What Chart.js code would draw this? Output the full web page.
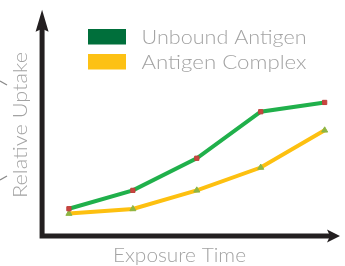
<!DOCTYPE html>
<html>
<head>
<meta charset="utf-8">
<script src="https://cdn.jsdelivr.net/npm/chart.js@4"></script>
<style>
  html, body { margin: 0; padding: 0; background: #fff; }
  #wrap { width: 345px; height: 266px; }
</style>
</head>
<body>
<div id="wrap"><canvas id="chart" width="345" height="266"></canvas></div>
<script>
// time points (unlabelled on the x axis)
const timePoints = [1, 2, 3, 4, 5];
const unboundAntigen = [1.23, 2.06, 3.51, 5.61, 6.03];
const antigenComplex = [1.01, 1.22, 2.06, 3.09, 4.77];
const seriesLabels = ['Unbound Antigen', 'Antigen Complex'];
const legendColors = ['#006f3b', '#fdc114'];

const FONT = 'Lato, "Open Sans", sans-serif';
const TEXT_GREY = '#a3a3a3';
const AXIS_BLACK = '#231f20';

// draw text stretched to a given width (the original face is much wider)
function wideText(ctx, text, x, y, width) {
    const w = ctx.measureText(text).width;
    ctx.save();
    ctx.translate(x, y);
    ctx.scale(width / w, 1);
    ctx.fillText(text, 0, 0);
    ctx.restore();
}

// arrows + titles + legend drawn on top of the plot
const decorPlugin = {
    id: 'decor',
    beforeDatasetsDraw(chart) {
        const { ctx, scales } = chart;
        const ox = scales.x.getPixelForValue(0.58);
        const oy = scales.y.getPixelForValue(0);
        const top = scales.y.getPixelForValue(10.22);
        const right = scales.x.getPixelForValue(5.24);

        ctx.save();
        ctx.strokeStyle = AXIS_BLACK;
        ctx.fillStyle = AXIS_BLACK;
        ctx.lineWidth = 5;
        ctx.lineCap = 'butt';
        ctx.beginPath();
        ctx.moveTo(ox, top + 18);
        ctx.lineTo(ox, oy + 2.5);
        ctx.moveTo(ox - 2.5, oy);
        ctx.lineTo(right - 10, oy);
        ctx.stroke();

        // up arrow
        ctx.beginPath();
        ctx.moveTo(ox, top);
        ctx.lineTo(ox + 6.5, top + 22);
        ctx.lineTo(ox, top + 19);
        ctx.lineTo(ox - 6.5, top + 22);
        ctx.closePath();
        ctx.fill();

        // right arrow
        ctx.beginPath();
        ctx.moveTo(right, oy);
        ctx.lineTo(right - 13, oy - 6.5);
        ctx.lineTo(right - 10, oy);
        ctx.lineTo(right - 13, oy + 6.5);
        ctx.closePath();
        ctx.fill();

        // little cut-off marks at the left edge
        ctx.strokeStyle = '#8a8a8a';
        ctx.lineWidth = 1.3;
        ctx.beginPath();
        ctx.moveTo(0, 81);
        ctx.lineTo(7, 85);
        ctx.moveTo(0, 180);
        ctx.lineTo(7, 176);
        ctx.stroke();

        // axis titles
        ctx.fillStyle = TEXT_GREY;
        ctx.font = '300 19px ' + FONT;
        ctx.textAlign = 'left';
        ctx.textBaseline = 'alphabetic';
        wideText(ctx, 'Exposure Time', 113, 262, 133);
        ctx.translate(27, 198);
        ctx.rotate(-Math.PI / 2);
        wideText(ctx, 'Relative Uptake', 0, 0, 146);
        ctx.restore();

        // legend
        ctx.save();
        ctx.font = '300 19px ' + FONT;
        ctx.textAlign = 'left';
        ctx.textBaseline = 'alphabetic';
        seriesLabels.forEach((lab, i) => {
            const y = 29 + i * 25;
            ctx.fillStyle = legendColors[i];
            ctx.fillRect(88, y, 38, 15.5);
            ctx.fillStyle = TEXT_GREY;
            wideText(ctx, lab, 141.5, y + 15, 165);
        });
        ctx.restore();
    }
};

new Chart(document.getElementById('chart'), {
    type: 'line',
    data: {
        datasets: [
            {
                label: seriesLabels[0],
                data: timePoints.map((t, i) => ({ x: t, y: unboundAntigen[i] })),
                borderColor: '#20b04b',
                borderWidth: 4,
                pointStyle: 'rect',
                pointRadius: 3,
                pointBackgroundColor: '#c9453f',
                pointBorderColor: '#c0403c',
                pointBorderWidth: 1,
                tension: 0
            },
            {
                label: seriesLabels[1],
                data: timePoints.map((t, i) => ({ x: t, y: antigenComplex[i] })),
                borderColor: '#fdc010',
                borderWidth: 4,
                pointStyle: 'triangle',
                pointRadius: 3.5,
                pointBackgroundColor: '#8db544',
                pointBorderColor: '#8db544',
                pointBorderWidth: 1,
                tension: 0
            }
        ]
    },
    options: {
        responsive: false,
        animation: false,
        layout: { padding: 0 },
        scales: {
            x: { type: 'linear', min: 0, max: 5.24, display: false },
            y: { min: -1.13, max: 10.43, display: false }
        },
        plugins: {
            legend: { display: false },
            tooltip: { enabled: false }
        }
    },
    plugins: [decorPlugin]
});
</script>
</body>
</html>
